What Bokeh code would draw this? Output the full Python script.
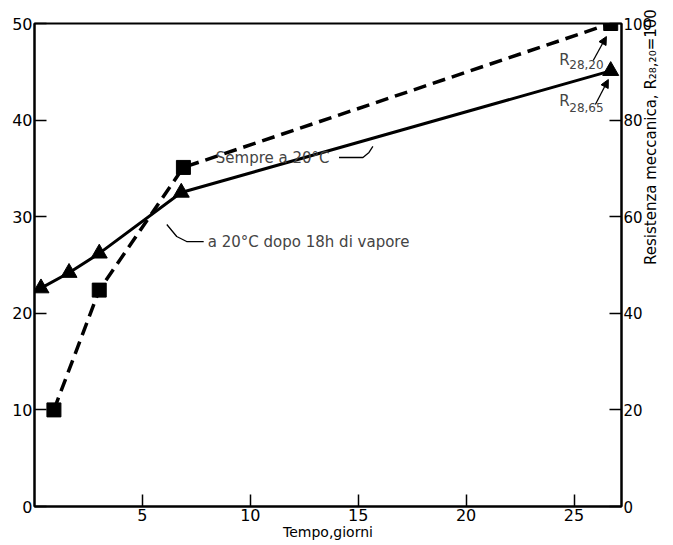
import math
from bokeh.plotting import figure
from bokeh.models import Range1d, LinearAxis, FixedTicker, Label, Arrow, NormalHead
from bokeh.embed import file_html
from bokeh.resources import INLINE

# ---- data ----
days_sq = [0.9, 3.0, 6.9, 26.7]          # Sempre a 20°C
res_sq = [10.0, 22.4, 35.1, 50.0]
days_tr = [0.3, 1.6, 3.0, 6.8, 26.7]     # a 20°C dopo 18h di vapore
res_tr = [22.6, 24.2, 26.2, 32.5, 45.1]
x_ticks = [5, 10, 15, 20, 25]
left_ticks = [0, 10, 20, 30, 40, 50]
right_ticks = [0, 20, 40, 60, 80, 100]

FONT = "DejaVu Sans"

p = figure(width=673, height=545, output_backend="svg", toolbar_location=None,
           x_range=Range1d(0, 27.2), y_range=Range1d(0, 50),
           min_border_left=34, min_border_right=52, min_border_top=23, min_border_bottom=39)
p.extra_y_ranges = {"r": Range1d(0, 100)}
p.grid.visible = False
p.outline_line_color = "black"
p.outline_line_width = 2
p.background_fill_color = "white"
p.border_fill_color = "white"

def style(ax):
    ax.axis_line_width = 2
    ax.axis_line_color = "black"
    ax.major_tick_in = 12
    ax.major_tick_out = 0
    ax.major_tick_line_width = 1.5
    ax.minor_tick_line_color = None
    ax.major_label_text_font = FONT
    ax.major_label_text_font_size = "16px"
    ax.major_label_text_color = "black"
    ax.major_label_standoff = 2
    ax.axis_label_text_font = FONT
    ax.axis_label_text_font_style = "normal"
    ax.axis_label_text_color = "black"
    ax.axis_label_standoff = 0

p.xaxis.ticker = FixedTicker(ticks=x_ticks)
p.xaxis.axis_label = "Tempo,giorni"
p.yaxis.ticker = FixedTicker(ticks=left_ticks)
style(p.xaxis[0])
style(p.yaxis[0])
p.xaxis.axis_label_text_font_size = "14px"

# right axis: ticks and tick labels
rax = LinearAxis(y_range_name="r", ticker=FixedTicker(ticks=right_ticks))
style(rax)
rax.major_label_text_font_size = "15px"
rax.major_label_standoff = 2
p.add_layout(rax, "right")

# right axis title (reads bottom-to-top), carried by a bare outer axis
tax = LinearAxis(y_range_name="r", ticker=FixedTicker(ticks=[]), bounds=(0, 39),
                 axis_label="Resistenza meccanica, R₂₈,₂₀=100")
style(tax)
tax.axis_line_color = None
tax.major_tick_line_color = None
tax.major_label_text_font_size = "1px"
tax.major_label_standoff = 0
tax.axis_label_text_font_size = "15px"
tax.axis_label_orientation = math.pi / 2
tax.axis_label_standoff = -5
tax.axis_label_text_baseline = "top"
p.add_layout(tax, "right")

# lines
p.line(days_sq, res_sq, line_color="black", line_width=3.5, line_dash="13 7")
p.line(days_tr, res_tr, line_color="black", line_width=3)
p.scatter(days_sq, res_sq, marker="square", size=14, color="black")
p.scatter(days_tr, res_tr, marker="triangle", size=16, color="black")

# annotations
p.add_layout(Label(x=8.4, y=36.1, text="Sempre a 20°C", text_font=FONT, text_font_size="15px",
                   text_baseline="middle", text_align="left"))
p.line([14.11, 15.22, 15.50, 15.68], [36.13, 36.13, 36.65, 37.27], line_color="black", line_width=1.3)

p.add_layout(Label(x=8.03, y=27.4, text="a 20°C dopo 18h di vapore", text_font=FONT,
                   text_font_size="15px", text_baseline="middle", text_align="left"))
p.line([6.13, 6.59, 7.05, 7.84], [29.19, 27.95, 27.43, 27.43], line_color="black", line_width=1.3)

for ry, sy, sub in [(46.27, 45.76, "28,20"), (41.93, 41.3, "28,65")]:
    p.add_layout(Label(x=24.32, y=ry, text="R", text_font=FONT, text_font_size="15px",
                       text_baseline="middle", text_align="left"))
    p.add_layout(Label(x=24.78, y=sy, text=sub, text_font=FONT, text_font_size="12px",
                       text_baseline="middle", text_align="left"))

p.add_layout(Arrow(x_start=25.89, y_start=46.17, x_end=26.50, y_end=48.65, line_width=1.3,
                   end=NormalHead(size=8, fill_color="black", line_color="black")))
p.add_layout(Arrow(x_start=25.99, y_start=41.61, x_end=26.59, y_end=44.2, line_width=1.3,
                   end=NormalHead(size=8, fill_color="black", line_color="black")))

open("out.html", "w").write(file_html(p, INLINE))
